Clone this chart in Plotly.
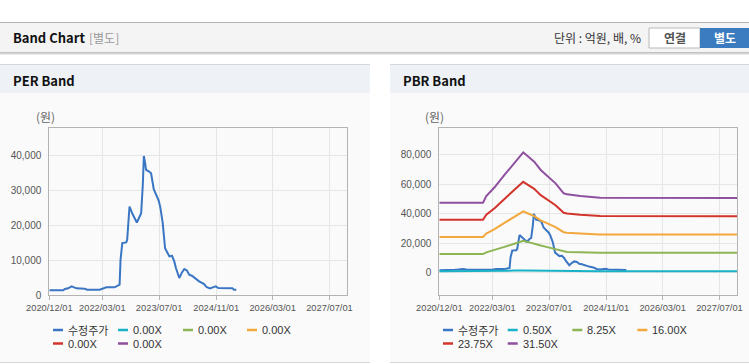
import plotly.graph_objects as go

W, H = 749, 364

# ---------------- data ----------------
price_dates = [
    "2020-12-01", "2021-03-30", "2021-04-14", "2021-05-12", "2021-06-10", "2021-06-24",
    "2021-07-22", "2021-10-01", "2021-10-21", "2022-02-06", "2022-02-26", "2022-04-04",
    "2022-06-14", "2022-07-13", "2022-07-27", "2022-08-04", "2022-08-19", "2022-09-22",
    "2022-09-30", "2022-10-20", "2022-11-18", "2022-12-22", "2023-01-14", "2023-01-28",
    "2023-02-11", "2023-02-20", "2023-03-03", "2023-03-11", "2023-04-03", "2023-04-23",
    "2023-05-16", "2023-06-05", "2023-06-28", "2023-07-12", "2023-08-01", "2023-08-21",
    "2023-09-07", "2023-09-27", "2023-10-19", "2023-11-08", "2023-11-22", "2023-12-21",
    "2024-01-13", "2024-02-02", "2024-02-24", "2024-03-15", "2024-04-07", "2024-05-11",
    "2024-06-08", "2024-07-21", "2024-08-10", "2024-09-08", "2024-09-30", "2024-10-29",
    "2024-11-20", "2025-01-22", "2025-03-20", "2025-04-03", "2025-04-23",
]
price_values = [
    1340, 1340, 1720, 1910, 2480, 2290,
    1910, 1810, 1530, 1530, 1810, 2200,
    2200, 2770, 2960, 10120, 14890, 15080,
    15850, 25390, 23010, 20810, 22720, 23480,
    31600, 39900, 37800, 35900, 35510, 34940,
    30360, 28930, 27020, 25000, 20620, 13460,
    12510, 11070, 11260, 9640, 7730, 4870,
    6490, 7450, 7060, 5820, 5540, 4580,
    3910, 3150, 2290, 1910, 2100, 2480,
    2000, 2000, 1910, 1530, 1530,
]

bps_dates = [
    "2020-12-01", "2021-12-11", "2022-01-08", "2022-03-20", "2022-06-13", "2022-09-06",
    "2022-11-21", "2022-12-28", "2023-02-23", "2023-04-20", "2023-06-15", "2023-08-25",
    "2023-11-03", "2023-12-01", "2024-03-24", "2024-07-15", "2024-09-10", "2027-12-01",
]
bps_values = [
    1508, 1508, 1652, 1840, 2107, 2359,
    2597, 2518, 2395, 2215, 2085, 1926,
    1710, 1688, 1652, 1638, 1616, 1609,
]

per_band_labels = ["0.00X", "0.00X", "0.00X", "0.00X", "0.00X"]
pbr_multiples = [0.50, 8.25, 16.00, 23.75, 31.50]
pbr_band_labels = ["0.50X", "8.25X", "16.00X", "23.75X", "31.50X"]
price_label = "수정주가"

tick_dates = ["2020-12-01", "2022-03-01", "2023-07-01", "2024-11-01", "2026-03-01", "2027-07-01"]
tick_texts = ["2020/12/01", "2022/03/01", "2023/07/01", "2024/11/01", "2026/03/01", "2027/07/01"]
x_range = ["2020-12-01", "2027-12-01"]

per_y_ticks = [0, 10000, 20000, 30000, 40000]
pbr_y_ticks = [0, 20000, 40000, 60000, 80000]

colors = ["#3a76c4", "#1ab2c6", "#8db554", "#f2a83c", "#d2342c", "#8e509f"]

# ---------------- helpers ----------------
def px(x):
    return x / W

def py(y):
    return 1 - y / H

KFONT = "Noto Sans CJK KR, Liberation Sans, sans-serif"
NFONT = "Liberation Sans, Arial, sans-serif"

fig = go.Figure()

# PER chart traces
fig.add_trace(go.Scatter(x=price_dates, y=price_values, mode="lines",
                         line=dict(color=colors[0], width=2), name=price_label,
                         xaxis="x", yaxis="y", showlegend=False))
for i, lab in enumerate(per_band_labels):
    fig.add_trace(go.Scatter(x=[], y=[], mode="lines", line=dict(color=colors[i + 1], width=2),
                             name=lab, xaxis="x", yaxis="y", showlegend=False))

# PBR chart: price first, then bands (cyan band drawn over the price near zero)
fig.add_trace(go.Scatter(x=price_dates, y=price_values, mode="lines",
                         line=dict(color=colors[0], width=2), name=price_label,
                         xaxis="x2", yaxis="y2", showlegend=False))
for i, (m, lab) in enumerate(zip(pbr_multiples, pbr_band_labels)):
    fig.add_trace(go.Scatter(x=bps_dates, y=[b * m for b in bps_values], mode="lines",
                             line=dict(color=colors[i + 1], width=2), name=lab,
                             xaxis="x2", yaxis="y2", showlegend=False))

# ---------------- background shapes ----------------
shapes = []

def rect(x0, y0, x1, y1, fill, line=None, layer="below"):
    shapes.append(dict(type="rect", xref="paper", yref="paper",
                       x0=px(x0), x1=px(x1), y0=py(y1), y1=py(y0),
                       fillcolor=fill, line=dict(width=0 if line is None else 1,
                                                 color=line or "rgba(0,0,0,0)"),
                       layer=layer))

def hline(x0, x1, y, color, layer="below"):
    shapes.append(dict(type="line", xref="paper", yref="paper",
                       x0=px(x0), x1=px(x1), y0=py(y), y1=py(y),
                       line=dict(color=color, width=1), layer=layer))

# header bar
rect(0, 22, 749, 53, "#f4f4f4")
hline(0, 749, 22.5, "#b4b4b4")
hline(0, 749, 52.5, "#c2c2c2")
hline(0, 749, 53.5, "#d6d6d6")
hline(0, 749, 54.5, "#e8e8e8")

# panels
for (a, b) in [(0, 370), (390, 749)]:
    rect(a, 65, b, 93, "#eef1f6")
    rect(a, 93, b, 362, "#fafafa")
    hline(a, b, 64.5, "#d6d6d6")
    hline(a, b, 362.5, "#d6d6d6")

# buttons
rect(649, 28, 700, 48, "#ffffff", line="#b8b8b8")
rect(700, 28, 749, 48, "#3b7cc0")

# ---------------- annotations ----------------
ann = []

def text(x, y, s, size=12, color="#333", bold=False, xanchor="left", family=KFONT):
    ann.append(dict(xref="paper", yref="paper", x=px(x), y=py(y), text=("<b>%s</b>" % s) if bold else s,
                    showarrow=False, xanchor=xanchor, yanchor="middle",
                    font=dict(size=size, color=color, family=family)))

text(11, 38, "Band Chart", size=13, color="#111", bold=True)
text(87, 38, "[별도]", size=12, color="#999")
text(643, 38, "단위 : 억원, 배, %", size=12, color="#333", xanchor="right")
text(674.5, 38, "연결", size=12, color="#555", bold=True, xanchor="center")
text(724.5, 38, "별도", size=12, color="#ffffff", bold=True, xanchor="center")
text(11, 80, "PER Band", size=13, color="#111", bold=True)
text(401, 80, "PBR Band", size=13, color="#111", bold=True)
text(34, 117, "(원)", size=12, color="#666")
text(423, 117, "(원)", size=12, color="#666")

# manual legends
def legend(xs_rows, labels, cols):
    k = 0
    for (row_y, xs) in xs_rows:
        for x in xs:
            shapes.append(dict(type="line", xref="paper", yref="paper",
                               x0=px(x), x1=px(x + 10), y0=py(row_y), y1=py(row_y),
                               line=dict(color=cols[k], width=2.5), layer="above"))
            fam = KFONT if labels[k] == price_label else NFONT
            text(x + 13, row_y, labels[k], size=11, color="#333", family=fam)
            k += 1

legend([(330, [53, 118, 183, 247]), (343.5, [53, 118])],
       [price_label] + per_band_labels, colors)
legend([(330, [443, 507.7, 572.3, 637.3]), (343.5, [443, 507.7])],
       [price_label] + pbr_band_labels, colors)

# ---------------- axes ----------------
def xaxis(domain, anchor):
    return dict(domain=domain, anchor=anchor, type="date", range=x_range,
                tickvals=tick_dates, ticktext=tick_texts, automargin=False,
                showgrid=True, gridcolor="#e6e6e6", gridwidth=1,
                showline=True, mirror=True, linecolor="#b3b3b3", linewidth=1,
                ticks="outside", ticklen=4, tickcolor="#b3b3b3",
                tickfont=dict(family=NFONT, size=9.3, color="#555"),
                zeroline=False, fixedrange=True)

def yaxis(domain, anchor, rng, tv):
    return dict(domain=domain, anchor=anchor, range=rng, tickvals=tv,
                ticktext=["{:,}".format(v) for v in tv], automargin=False,
                showgrid=True, gridcolor="#e6e6e6", gridwidth=1,
                showline=True, mirror=True, linecolor="#b3b3b3", linewidth=1,
                ticks="outside", ticklen=5, tickcolor="rgba(0,0,0,0)",
                tickfont=dict(family=NFONT, size=10, color="#555"),
                zeroline=False, fixedrange=True)

ydom = [py(295), py(128.3)]
fig.update_layout(
    width=W, height=H,
    margin=dict(l=0, r=0, t=0, b=0, pad=0, autoexpand=False),
    paper_bgcolor="#ffffff", plot_bgcolor="#ffffff",
    showlegend=False,
    font=dict(family=KFONT),
    xaxis=xaxis([px(49.3), px(347.3)], "y"),
    yaxis=yaxis(ydom, "x", [0, 47830], per_y_ticks),
    xaxis2=xaxis([px(439.3), px(737.3)], "y2"),
    yaxis2=yaxis(ydom, "x2", [-15450, 98190], pbr_y_ticks),
    shapes=shapes,
    annotations=ann,
)

fig.write_html(
    "out.html",
    config={"displayModeBar": False},
    post_script="document.body.style.margin='0px';document.body.style.overflow='hidden';",
)
